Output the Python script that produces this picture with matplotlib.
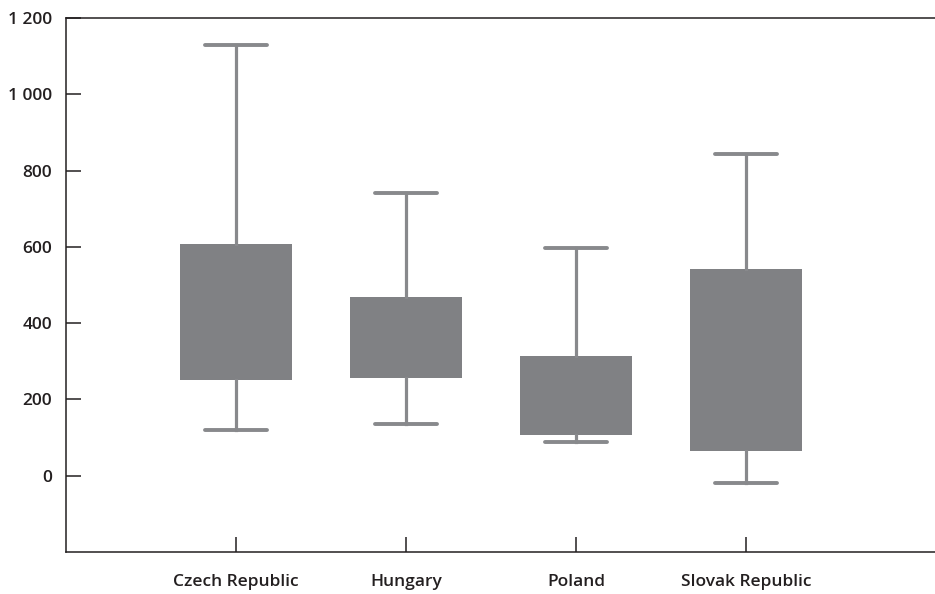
import matplotlib.pyplot as plt

plt.rcParams['font.family'] = ['Open Sans', 'DejaVu Sans']

countries = ["Czech Republic", "Hungary", "Poland", "Slovak Republic"]
whisker_low = [120, 136, 88, -18]
box_low = [251, 257, 108, 66]
box_high = [608, 469, 314, 542]
whisker_high = [1129, 741, 597, 844]

BOX_COLOR = "#808184"
WHISKER_COLOR = "#88898c"
AXIS_COLOR = "#231f20"

fig = plt.figure(figsize=(9.35, 5.94), dpi=100)
ax = fig.add_axes([66 / 935, 42 / 594, 1 - 66 / 935, (552 - 18) / 594])

stats = []
for name, wl, q1, q3, wh in zip(countries, whisker_low, box_low, box_high, whisker_high):
    stats.append({"label": name, "whislo": wl, "q1": q1, "med": q1,
                  "q3": q3, "whishi": wh})

positions = range(1, len(countries) + 1)
ax.bxp(stats, positions=positions, widths=0.66, showfliers=False,
       patch_artist=True,
       boxprops=dict(facecolor=BOX_COLOR, edgecolor=BOX_COLOR, linewidth=0),
       whiskerprops=dict(color=WHISKER_COLOR, linewidth=2.3),
       capprops=dict(color=WHISKER_COLOR, linewidth=2.8, solid_capstyle='round'),
       medianprops=dict(visible=False),
       capwidths=0.36, zorder=2)

ax.set_xlim(0, (935 - 66) / 170)
ax.set_ylim(-200, 1200)

ax.set_yticks([0, 200, 400, 600, 800, 1000, 1200])
ax.set_yticklabels(["0", "200", "400", "600", "800", "1 000", "1 200"])
ax.set_xticks(list(positions))
ax.set_xticklabels(countries)

ax.spines['right'].set_visible(False)
for side in ['left', 'bottom', 'top']:
    ax.spines[side].set_color(AXIS_COLOR)
    ax.spines[side].set_linewidth(1.1)

ax.tick_params(axis='both', direction='in', length=11, width=1.1,
               color=AXIS_COLOR, labelsize=12.5, labelcolor="#231f20")
ax.tick_params(axis='y', pad=10)
ax.tick_params(axis='x', pad=16)
for lbl in ax.get_xticklabels() + ax.get_yticklabels():
    lbl.set_fontweight('semibold')

plt.savefig("out.png", dpi=100)
plt.close()
